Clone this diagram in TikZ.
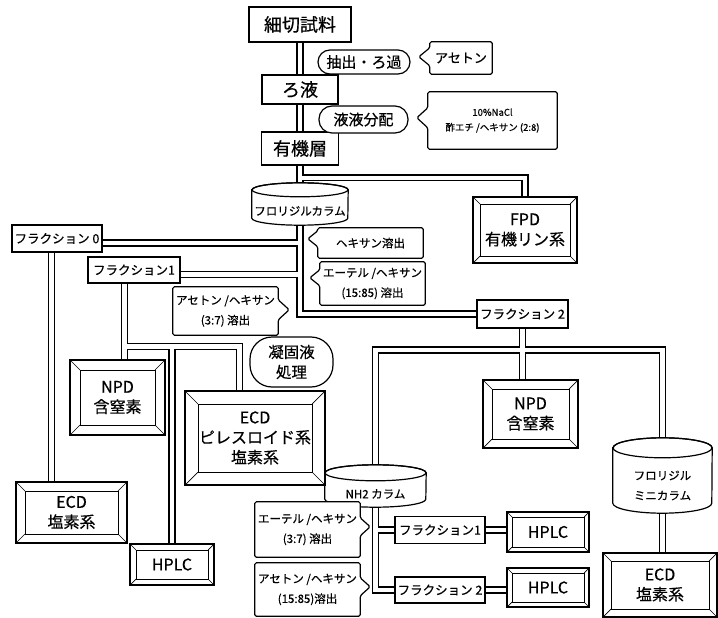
\documentclass[tikz,border=0pt]{standalone}
\usepackage{fontspec}
\setmainfont{Noto Sans CJK JP}[FakeBold=0.5]
\pgfdeclarelayer{pipes}
\pgfdeclarelayer{shapes}
\pgfsetlayers{pipes,shapes,main}
\newcommand{\fsBig}{\fontsize{18}{20}\selectfont}
\newcommand{\fsMid}{\fontsize{15}{17}\selectfont}
\newcommand{\fsMidB}{\fontsize{15.5}{20}\selectfont}
\newcommand{\fsAce}{\fontsize{13}{15}\selectfont}
\newcommand{\fsSmall}{\fontsize{9.5}{15}\selectfont}
\newcommand{\fsF}{\fontsize{16}{20}\selectfont}
\newcommand{\fsCyl}{\fontsize{11.5}{20}\selectfont}
\newcommand{\fsFrac}{\fontsize{12.5}{14}\selectfont}
\newcommand{\fsSol}{\fontsize{11.5}{20}\selectfont}
\tikzset{
  sz/.style 2 args={minimum width=#1pt, minimum height=#2pt},
  thickbox/.style={draw, line width=2.2pt, fill=white, inner sep=0pt},
  midbox/.style={draw, line width=1.6pt, fill=white, inner sep=0pt},
  plainbox/.style={draw, line width=1.2pt, fill=white, inner sep=0pt},
  roundbox/.style={draw, line width=1.2pt, fill=white, inner sep=0pt, rounded corners=#1pt, align=center},
  txt/.style={inner sep=0pt, align=center},
  framebox/.style={draw, line width=1.3pt, fill=white, inner sep=0pt, align=center,
    path picture={
      \draw[line width=1pt] ([shift={(#1pt,-#1pt)}]path picture bounding box.north west) rectangle ([shift={(-#1pt,#1pt)}]path picture bounding box.south east);
      \draw[line width=0.7pt] (path picture bounding box.north west) -- ([shift={(#1pt,-#1pt)}]path picture bounding box.north west)
        (path picture bounding box.north east) -- ([shift={(-#1pt,-#1pt)}]path picture bounding box.north east)
        (path picture bounding box.south west) -- ([shift={(#1pt,#1pt)}]path picture bounding box.south west)
        (path picture bounding box.south east) -- ([shift={(-#1pt,#1pt)}]path picture bounding box.south east);
    }},
  hookline/.style={line width=1.2pt, fill=white, line join=round, rounded corners=1.5pt},
  cylline/.style={line width=1.2pt},
  pipeout/.style={line width=7.2pt, black},
  pipein/.style={line width=4.6pt, white},
}
% box with a left-pointing hook: node, offset from top, depth, half height
\newcommand{\hookL}[4]{\begin{pgfonlayer}{shapes}\draw[hookline]
  (#1.south west) -- (#1.south east) -- (#1.north east) -- (#1.north west)
  -- ([yshift=-#2pt]#1.north west)
  -- ([shift={(-#3pt,-#2pt-#4pt)}]#1.north west)
  -- ([yshift=-#2pt-2*#4pt]#1.north west) -- cycle;\end{pgfonlayer}}
\newcommand{\hookR}[4]{\begin{pgfonlayer}{shapes}\draw[hookline]
  (#1.south east) -- (#1.south west) -- (#1.north west) -- (#1.north east)
  -- ([yshift=-#2pt]#1.north east)
  -- ([shift={(#3pt,-#2pt-#4pt)}]#1.north east)
  -- ([yshift=-#2pt-2*#4pt]#1.north east) -- cycle;\end{pgfonlayer}}
% cylinder: node spans from front of top ellipse to bottom; args node, rx, ry
\newcommand{\cyl}[3]{\begin{pgfonlayer}{shapes}
  \draw[cylline, fill=white] ([yshift=#3pt]#1.north west) -- ([yshift=#3pt]#1.south west) arc[start angle=180,end angle=360,x radius=#2pt,y radius=#3pt] -- ([yshift=#3pt]#1.north east) arc[start angle=0,end angle=180,x radius=#2pt,y radius=#3pt] -- cycle;
  \draw[cylline] ([yshift=#3pt]#1.north) ellipse[x radius=#2pt, y radius=#3pt];
\end{pgfonlayer}}
\newcommand{\allpipes}{%
  \draw (saibun.south) -- (fl.north);
  \draw ([yshift=-12pt]yuki.south) -| (fpd.north);
  \draw (fl.south) |- (frac2.west);
  \draw ([yshift=-4.5pt]frac0.east) -- ([yshift=-4.5pt]frac0.east -| fl.south);
  \draw ([yshift=-4.5pt]frac1.east) -- ([yshift=-4.5pt]frac1.east -| fl.south);
  \draw ([xshift=-5.5pt]frac0.south) -- ([xshift=-5.5pt]frac0.south |- ecdL.north);
  \draw ([xshift=-9.5pt]frac1.south) -- ([xshift=-9.5pt]frac1.south |- npdL.north);
  \draw (j1) -| ([xshift=-15.5pt]ecdP.north);
  \draw (j1 -| hplcL.north) -- (hplcL.north);
  \draw (frac2.south) -- (frac2.south |- npdR.north);
  \draw (nh2.north) |- (j2) -| (mini.north);
  \draw (mini.south) -- (mini.south |- ecdR.north);
  \draw (nh2.south) |- (nf1.west);
  \draw (nh2.south) |- (nf2.west);
  \draw (nf1.east) -- (nf1.east -| hplc1.west);
  \draw (nf2.east) -- (nf2.east -| hplc2.west);
}
\begin{document}
\begin{tikzpicture}[x=1pt,y=-1pt]
\useasboundingbox (0,0) rectangle (718,618);
% main column
\node[thickbox, sz={102}{35}, font=\fsBig] (saibun) at (300,24.5) {細切試料};
\node[thickbox, sz={76}{29}, font=\fsBig] (roeki) at (300,89.5) {ろ液};
\node[midbox, sz={77}{33}, font=\fsBig] (yuki) at (300,148.5) {有機層};
\node[roundbox=12, sz={92}{24}, font=\fsMid] (chu) at (364,62) {抽出・ろ過};
\node[roundbox=13, sz={89}{27}, font=\fsMid] (eki) at (363.5,119.5) {液液分配};
\node[txt, sz={62}{32}, font=\fsAce] (ace) at (461,58) {アセトン};
\hookL{ace}{6}{11}{9}
\node[txt, sz={129}{57}, font=\fsSmall] (nacl) at (492.5,120.5) {10\%NaCl\\酢エチ /ヘキサン (2:8)};
\hookL{nacl}{16}{11}{10}
\node[framebox=7, sz={104}{66}, font=\fsF] (fpd) at (525,230) {FPD\\有機リン系};
\node[txt, sz={96}{28}, font=\fsCyl] (fl) at (300,211) {フロリジルカラム};
\cyl{fl}{48}{7}
% florisil fractions
\node[plainbox, sz={90}{27}, font=\fsFrac] (frac0) at (57,238.5) {フラクション 0};
\node[plainbox, sz={92}{26}, font=\fsFrac] (frac1) at (134,270) {フラクション1};
\node[txt, sz={105}{30}, font=\fsSol] (hex) at (370.5,243) {ヘキサン溶出};
\hookL{hex}{3}{10}{8}
\node[txt, sz={105}{43}, font=\fsSol] (eth1) at (372.5,283.5) {エーテル /ヘキサン\\(15:85) 溶出};
\hookL{eth1}{8}{10}{8}
\node[txt, sz={105}{48}, font=\fsSol] (ace37) at (225.5,311) {アセトン /ヘキサン\\(3:7) 溶出};
\hookR{ace37}{13}{11}{10}
\node[plainbox, sz={91}{28}, font=\fsFrac] (frac2) at (522.5,314) {フラクション 2};
% detectors left
\node[framebox=10, sz={95}{75}, font=\fsF] (npdL) at (117.5,397.5) {NPD\\含窒素};
\node[framebox=13, sz={140}{94}, font=\fsF] (ecdP) at (255,438) {ECD\\ピレスロイド系\\塩素系};
\node[roundbox=22, sz={83}{50}, font=\fsMidB] (gyoko) at (291.5,362) {凝固液\\処理};
\node[framebox=9, sz={111}{61}, font=\fsF] (ecdL) at (71.5,512.5) {ECD\\塩素系};
\node[framebox=6, sz={84}{41}, font=\fsF] (hplcL) at (172,564.5) {HPLC};
% fraction 2 side
\node[framebox=9, sz={95}{68}, font=\fsF] (npdR) at (530.5,414) {NPD\\含窒素};
\node[txt, sz={101}{26}, font=\fsCyl] (nh2) at (375.5,494) {NH2 カラム};
\cyl{nh2}{50.5}{8}
\node[txt, sz={99}{55}, font=\fsCyl] (mini) at (662.5,485.5) {フロリジル\\ミニカラム};
\cyl{mini}{49.5}{10}
\node[framebox=8, sz={114}{64}, font=\fsF] (ecdR) at (660,585) {ECD\\塩素系};
\node[txt, sz={105}{55}, font=\fsSol] (eth37) at (307.5,529.5) {エーテル /ヘキサン\\(3:7) 溶出};
\hookR{eth37}{16}{10}{9}
\node[txt, sz={105}{53}, font=\fsSol] (ace1585) at (307.5,589.5) {アセトン /ヘキサン\\(15:85)溶出};
\hookR{ace1585}{15}{10}{9}
\node[plainbox, sz={90}{27}, font=\fsFrac] (nf1) at (440,530) {フラクション1};
\node[plainbox, sz={90}{26}, font=\fsFrac] (nf2) at (440,590) {フラクション 2};
\node[framebox=5, sz={82}{40}, font=\fsF] (hplc1) at (548,532) {HPLC};
\node[framebox=5, sz={82}{39}, font=\fsF] (hplc2) at (548,587.5) {HPLC};
% junctions
\coordinate (j1) at (124.5,346.5);
\coordinate (j2) at (522.5,350);
% pipes
\begin{pgfonlayer}{pipes}
\begin{scope}[pipeout]\allpipes\end{scope}
\begin{scope}[pipein]\allpipes\end{scope}
\end{pgfonlayer}
\end{tikzpicture}
\end{document}
